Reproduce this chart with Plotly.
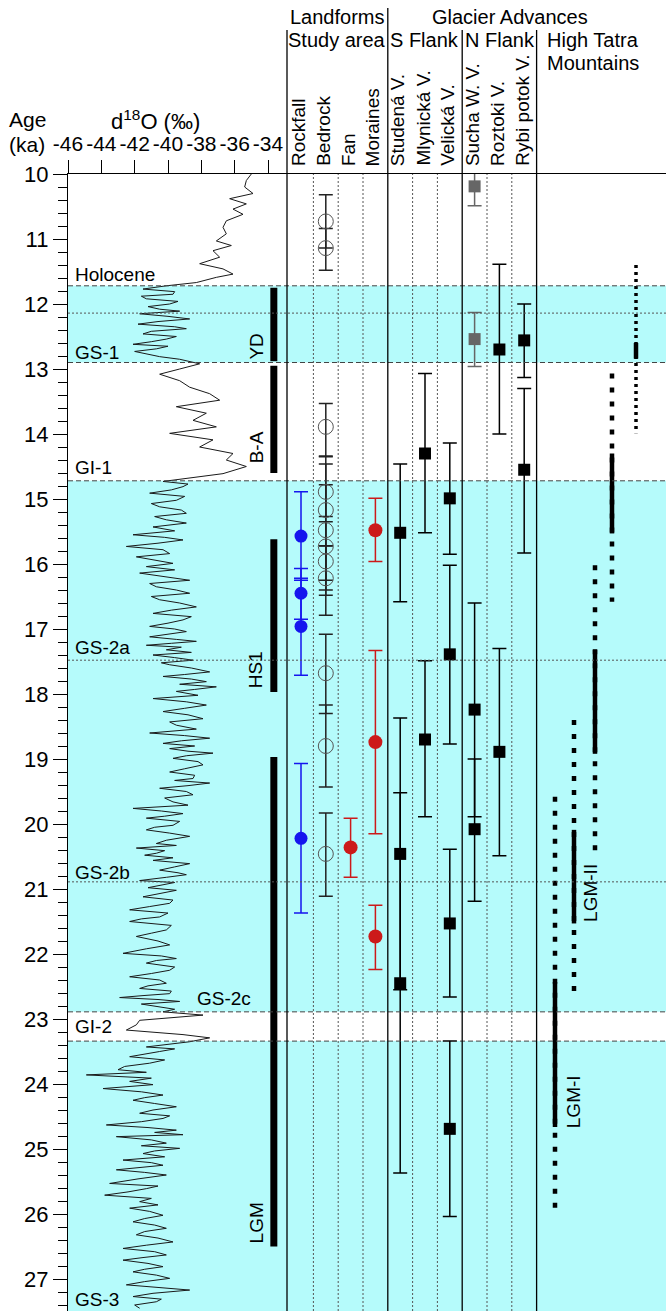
import plotly.graph_objects as go

# ---------------- data ----------------
# d18O record, by climate stage (age ka, permil)
age_holocene = [10.0, 10.1, 10.2, 10.3, 10.38, 10.46, 10.54, 10.62, 10.72, 10.82, 10.92, 11.03, 11.1, 11.18,
                11.28, 11.38, 11.46, 11.54, 11.59, 11.67]
d18o_holocene = [-35.0, -35.3, -35.4, -34.9, -36.3, -35.3, -36.1, -35.5, -36.5, -36.7, -36.5, -37.1, -36.2, -37.3,
                 -36.9, -38.1, -36.7, -36.1, -37.1, -38.3]

age_gs1 = [11.72, 11.77, 11.81, 11.85, 11.88, 11.92, 11.96, 12.0, 12.04, 12.08, 12.11, 12.15, 12.19, 12.23,
           12.27, 12.31, 12.35, 12.38, 12.42, 12.46, 12.5, 12.54, 12.58, 12.62, 12.65, 12.69, 12.73, 12.77,
           12.81, 12.85]
d18o_gs1 = [-40.1, -41.5, -39.6, -39.7, -41.6, -41.3, -39.4, -39.9, -41.2, -40.5, -39.3, -41.7, -40.0, -38.7,
            -40.6, -41.8, -39.6, -38.9, -41.0, -41.5, -39.5, -40.1, -41.0, -42.1, -40.0, -40.7, -42.0, -41.3,
            -40.5, -39.3]

age_gi1 = [12.92, 13.0, 13.08, 13.18, 13.28, 13.38, 13.48, 13.58, 13.68, 13.79, 13.89, 13.99, 14.09, 14.2,
           14.3, 14.4, 14.5, 14.61, 14.68]
d18o_gi1 = [-38.1, -39.3, -40.5, -39.3, -38.7, -37.5, -36.9, -39.5, -37.7, -38.5, -37.1, -39.9, -37.3, -38.1,
            -36.1, -36.5, -35.3, -36.7, -38.7]

age_gs2 = [14.73, 14.77, 14.81, 14.86, 14.91, 14.96, 15.02, 15.07, 15.12, 15.17, 15.22, 15.27, 15.32, 15.37,
           15.43, 15.49, 15.55, 15.59, 15.63, 15.68, 15.73, 15.78, 15.84, 15.89, 15.94, 15.99, 16.04, 16.09,
           16.14, 16.2, 16.25, 16.3, 16.35, 16.4, 16.45, 16.5, 16.55, 16.6, 16.66, 16.71, 16.76, 16.81,
           16.86, 16.91, 16.96, 17.0, 17.04, 17.08, 17.12, 17.16, 17.19, 17.22, 17.25, 17.28, 17.32, 17.36,
           17.4, 17.44, 17.48, 17.52, 17.55, 17.6, 17.66, 17.7, 17.73, 17.77, 17.81, 17.85, 17.89, 17.93,
           17.96, 18.02, 18.07, 18.12, 18.17, 18.22, 18.27, 18.32, 18.38, 18.43, 18.48, 18.54, 18.6, 18.64,
           18.68, 18.72, 18.76, 18.8, 18.84, 18.88, 18.91, 18.95, 18.99, 19.04, 19.09, 19.15, 19.2, 19.25,
           19.3, 19.33, 19.37, 19.41, 19.45, 19.5, 19.55, 19.6, 19.66, 19.71, 19.76, 19.8, 19.84, 19.88,
           19.91, 19.96, 20.02, 20.05, 20.09, 20.14, 20.19, 20.25, 20.3, 20.33, 20.37, 20.41, 20.45, 20.48,
           20.52, 20.56, 20.61, 20.66, 20.71, 20.75, 20.78, 20.82, 20.87, 20.9, 20.94, 20.98, 21.02, 21.07,
           21.12, 21.17, 21.22, 21.27, 21.32, 21.37, 21.43, 21.46, 21.5, 21.56, 21.63, 21.68, 21.73, 21.8,
           21.86, 21.92, 21.99, 22.03, 22.07, 22.1, 22.14, 22.2, 22.25, 22.3, 22.35, 22.4, 22.45, 22.49,
           22.53, 22.57, 22.61, 22.64, 22.67, 22.7, 22.73, 22.77, 22.81, 22.85, 22.89]
d18o_gs2 = [-40.3, -38.8, -39.1, -39.8, -41.1, -39.0, -39.5, -41.0, -40.5, -39.2, -38.9, -40.8, -40.1, -38.9,
            -40.9, -39.6, -42.1, -40.2, -39.1, -40.6, -42.5, -40.3, -39.9, -41.9, -40.9, -39.7, -41.3, -39.6,
            -41.7, -40.2, -38.7, -41.1, -40.7, -39.5, -38.7, -41.0, -40.5, -39.3, -38.3, -39.8, -40.9, -38.6,
            -39.1, -40.0, -41.1, -39.6, -38.9, -40.0, -41.1, -39.5, -38.3, -39.8, -41.3, -39.2, -40.1, -38.6,
            -40.9, -39.6, -38.5, -40.4, -39.9, -38.6, -37.5, -39.0, -40.3, -38.6, -37.7, -39.3, -37.1, -38.4,
            -39.5, -38.2, -40.9, -38.9, -37.7, -39.0, -40.3, -38.8, -37.9, -39.9, -39.5, -38.3, -41.1, -39.0,
            -37.5, -39.2, -40.3, -38.4, -39.9, -38.8, -37.3, -38.9, -39.7, -38.2, -37.9, -39.0, -39.9, -38.4,
            -38.5, -39.6, -37.5, -38.8, -40.5, -38.9, -38.5, -40.2, -39.7, -38.8, -42.1, -40.4, -39.1, -40.2,
            -41.3, -39.3, -39.7, -40.8, -41.3, -39.9, -38.7, -40.1, -40.7, -39.5, -41.9, -40.2, -40.7, -41.4,
            -39.7, -40.9, -38.7, -39.6, -40.5, -39.4, -38.9, -40.1, -41.7, -39.6, -40.3, -41.2, -39.5, -40.6,
            -41.5, -39.7, -39.9, -41.1, -42.3, -40.0, -40.5, -41.6, -42.3, -39.8, -40.1, -41.0, -41.9, -40.6,
            -39.9, -41.3, -42.7, -40.4, -39.5, -40.7, -41.3, -39.6, -39.9, -41.0, -42.3, -40.5, -40.1, -41.2,
            -41.7, -39.8, -39.9, -41.5, -42.9, -40.6, -39.3, -41.6, -40.7, -39.6, -40.3]

age_gi2 = [22.94, 23.02, 23.09, 23.17, 23.24, 23.29, 23.35]
d18o_gi2 = [-37.9, -41.7, -41.9, -42.5, -39.1, -37.5, -38.7]

age_gs3 = [23.43, 23.46, 23.5, 23.54, 23.58, 23.63, 23.68, 23.73, 23.78, 23.82, 23.86, 23.91, 23.96, 24.01,
           24.07, 24.12, 24.17, 24.21, 24.25, 24.3, 24.35, 24.4, 24.45, 24.49, 24.53, 24.58, 24.63, 24.67,
           24.71, 24.745, 24.78, 24.81, 24.86, 24.91, 24.95, 24.99, 25.03, 25.07, 25.12, 25.17, 25.21, 25.25,
           25.28, 25.32, 25.36, 25.4, 25.46, 25.53, 25.57, 25.61, 25.66, 25.71, 25.76, 25.81, 25.86, 25.91,
           25.96, 26.02, 26.07, 26.12, 26.17, 26.22, 26.27, 26.32, 26.37, 26.43, 26.48, 26.53, 26.58, 26.63,
           26.67, 26.71, 26.76, 26.81, 26.85, 26.89, 26.94, 26.99, 27.04, 27.09, 27.13, 27.17, 27.22, 27.27,
           27.31, 27.35, 27.4, 27.45]
d18o_gs3 = [-41.3, -39.6, -40.5, -41.3, -42.3, -40.2, -41.1, -42.6, -43.0, -41.3, -44.9, -41.0, -42.3, -40.9,
            -43.9, -41.6, -40.3, -41.4, -42.1, -40.8, -39.5, -40.9, -41.7, -39.9, -40.3, -41.6, -43.7, -41.2,
            -39.5, -40.8, -39.1, -43.1, -41.0, -40.1, -41.6, -39.3, -40.8, -41.5, -40.2, -42.7, -41.0, -40.3,
            -41.6, -43.1, -41.4, -40.1, -41.8, -43.5, -40.6, -41.3, -42.4, -43.8, -41.0, -41.7, -40.6, -42.3,
            -41.1, -40.3, -41.4, -42.1, -40.8, -40.1, -41.4, -41.9, -40.6, -39.7, -41.3, -42.7, -40.8, -40.1,
            -41.5, -42.7, -41.2, -40.3, -41.4, -42.1, -40.7, -39.9, -41.4, -42.5, -40.6, -38.7, -40.9, -42.1,
            -40.4, -40.7, -42.0, -41.7]

age = age_holocene + age_gs1 + age_gi1 + age_gs2 + age_gi2 + age_gs3
d18o = d18o_holocene + d18o_gs1 + d18o_gi1 + d18o_gs2 + d18o_gi2 + d18o_gs3

# climate stages
band_start = [11.72, 14.72, 23.34]
band_end = [12.90, 22.89, 27.60]
dashed_ages = [11.72, 12.90, 14.72, 22.89, 23.34]
dotted_ages = [12.14, 17.48, 20.89]
stage_labels = ["Holocene", "GS-1", "GI-1", "GS-2a", "GS-2b", "GS-2c", "GI-2", "GS-3"]
stage_label_age = [11.55, 12.74, 14.52, 17.29, 20.74, 22.68, 23.12, 27.32]
stage_label_d18o = [-45.7, -45.7, -45.7, -45.7, -45.7, -38.4, -45.7, -45.7]

# periods (thick black bars)
period_names = ["YD", "B-A", "HS1", "LGM"]
period_start = [11.75, 12.95, 15.62, 18.97]
period_end = [12.88, 14.60, 17.97, 26.50]
period_label_age = [12.65, 14.20, 17.63, 26.14]

# d18O ticks
d18o_ticks = [-46, -44, -42, -40, -38, -36, -34]
d18o_ticktext = ["-46", "-44", "-42", "-40", "-38", "-36", "-34"]

# columns
columns = ["Rockfall", "Bedrock", "Fan", "Moraines", "Studená V.", "Mlynická V.", "Velická V.",
           "Sucha W. V.", "Roztoki V.", "Rybi potok V."]

rockfall_age = [15.57, 16.45, 16.96, 20.22]
rockfall_lo = [14.89, 16.07, 16.22, 19.07]
rockfall_hi = [16.25, 16.85, 17.71, 21.37]

bedrock_age = [10.73, 11.14, 13.89, 14.89, 15.17, 15.48, 15.73, 15.96, 16.22, 17.68, 18.80, 20.46]
bedrock_lo = [10.32, 10.84, 13.53, 14.46, 14.34, 14.78, 15.35, 15.72, 15.72, 17.08, 18.17, 19.83]
bedrock_hi = [11.14, 11.48, 14.35, 15.27, 15.72, 16.25, 16.40, 16.48, 16.79, 18.30, 19.43, 21.11]

fan_age = [20.36]
fan_lo = [19.91]
fan_hi = [20.82]

moraines_age = [15.48, 18.74, 21.73]
moraines_lo = [14.99, 17.33, 21.25]
moraines_hi = [15.96, 20.15, 22.24]

studena_age = [15.52, 20.46, 22.45]
studena_lo = [14.46, 18.37, 19.52]
studena_hi = [16.58, 22.55, 25.37]

mlynicka_age = [14.30, 18.70]
mlynicka_lo = [13.07, 17.49]
mlynicka_hi = [15.52, 19.89]

velicka_age = [14.99, 17.39, 21.53, 24.69]
velicka_lo = [14.14, 16.02, 20.39, 23.34]
velicka_hi = [15.85, 18.77, 22.66, 26.04]

sucha_grey_age = [10.19, 12.54]
sucha_grey_lo = [9.90, 12.13]
sucha_grey_hi = [10.49, 12.96]

sucha_age = [18.24, 20.08]
sucha_lo = [16.60, 19.00]
sucha_hi = [19.89, 21.19]

roztoki_age = [12.70, 18.89]
roztoki_lo = [11.39, 17.30]
roztoki_hi = [14.00, 20.49]

rybi_age = [12.56, 14.55]
rybi_lo = [12.00, 13.30]
rybi_hi = [13.13, 15.83]

# High Tatra Mountains advances (dotted = uncertain extent, solid = core)
tatra_dot_start = [19.58, 18.40, 16.02, 13.07, 11.40]
tatra_dot_end = [25.96, 22.60, 20.50, 16.58, 13.99]
tatra_solid_start = [22.43, 20.09, 17.32, 14.30, 12.60]
tatra_solid_end = [24.66, 21.53, 18.92, 15.53, 12.84]

# ---------------- layout geometry ----------------
W, H = 666, 1311
L, T = 68, 174
PW, PH = W - L, H - T
X1_RANGE = [-46, -32.86]
SPLIT = 287
COL0, COLW = 301, 24.8
X2_RANGE = [(SPLIT - COL0) / COLW, (W - COL0) / COLW]
Y_RANGE = [10 + PH / 65.0, 10]


def px(xp):
    return (xp - L) / PW


def py(yp):
    return (H - yp) / PH


def colpos(xp):
    return (xp - COL0) / COLW


FONT = "Liberation Sans, Arial, sans-serif"
CYAN = "#b5fbfb"
BLUE = "#1515ee"
RED = "#cc1a1a"

fig = go.Figure()

# d18O curve
fig.add_trace(go.Scatter(x=d18o, y=age, mode="lines", line=dict(color="#1a1a1a", width=1),
                         xaxis="x", yaxis="y", showlegend=False, hoverinfo="skip"))

# period bars
bar_x = -33.65
for s, e in zip(period_start, period_end):
    fig.add_trace(go.Scatter(x=[bar_x, bar_x], y=[s, e], mode="lines",
                             line=dict(color="black", width=7), xaxis="x", yaxis="y",
                             showlegend=False, hoverinfo="skip"))


def add_points(ci, ages, lo, hi, symbol, size, mcolor, ecolor, line_w=0, lcolor=None):
    fig.add_trace(go.Scatter(
        x=[ci] * len(ages), y=ages, mode="markers", xaxis="x2", yaxis="y",
        marker=dict(symbol=symbol, size=size, color=mcolor,
                    line=dict(width=line_w, color=lcolor or mcolor)),
        error_y=dict(type="data", symmetric=False,
                     array=[h - a for a, h in zip(ages, hi)],
                     arrayminus=[a - l for a, l in zip(ages, lo)],
                     color=ecolor, thickness=1.5, width=7),
        showlegend=False, hoverinfo="skip"))


add_points(0, rockfall_age, rockfall_lo, rockfall_hi, "circle", 13, BLUE, BLUE)
add_points(1, bedrock_age, bedrock_lo, bedrock_hi, "circle-open", 15, "#555555", "#222222", 1, "#555555")
add_points(2, fan_age, fan_lo, fan_hi, "circle", 14, RED, RED)
add_points(3, moraines_age, moraines_lo, moraines_hi, "circle", 14, RED, RED)
add_points(4, studena_age, studena_lo, studena_hi, "square", 12, "black", "black")
add_points(5, mlynicka_age, mlynicka_lo, mlynicka_hi, "square", 12, "black", "black")
add_points(6, velicka_age, velicka_lo, velicka_hi, "square", 12, "black", "black")
add_points(7, sucha_grey_age, sucha_grey_lo, sucha_grey_hi, "square", 12, "#666666", "#666666")
add_points(7, sucha_age, sucha_lo, sucha_hi, "square", 12, "black", "black")
add_points(8, roztoki_age, roztoki_lo, roztoki_hi, "square", 12, "black", "black")
add_points(9, rybi_age, rybi_lo, rybi_hi, "square", 12, "black", "black")

# High Tatra lines
tatra_x = [colpos(p) for p in [555, 574, 595, 612, 636]]
for i, xc in enumerate(tatra_x):
    dash = "3px,4px" if i == 4 else "5px,9px"
    wd = 3.5 if i == 4 else 4.5
    fig.add_trace(go.Scatter(x=[xc, xc], y=[tatra_dot_start[i], tatra_dot_end[i]], mode="lines",
                             line=dict(color="black", width=wd, dash=dash), xaxis="x2", yaxis="y",
                             showlegend=False, hoverinfo="skip"))
    fig.add_trace(go.Scatter(x=[xc, xc], y=[tatra_solid_start[i], tatra_solid_end[i]], mode="lines",
                             line=dict(color="black", width=4.5), xaxis="x2", yaxis="y",
                             showlegend=False, hoverinfo="skip"))

shapes = []
for s, e in zip(band_start, band_end):
    shapes.append(dict(type="rect", xref="paper", yref="y", x0=0, x1=1, y0=s, y1=e,
                       fillcolor=CYAN, line=dict(width=0), layer="below"))
for a in dashed_ages:
    shapes.append(dict(type="line", xref="paper", yref="y", x0=0, x1=1, y0=a, y1=a,
                       line=dict(color="#444444", width=1, dash="5px,3px")))
for a in dotted_ages:
    shapes.append(dict(type="line", xref="paper", yref="y", x0=0, x1=1, y0=a, y1=a,
                       line=dict(color="#555555", width=1, dash="2px,2px")))
# column dotted separators
for c in [0.5, 1.5, 2.5, 4.5, 5.5, 7.5, 8.5]:
    shapes.append(dict(type="line", xref="x2", yref="paper", x0=c, x1=c, y0=0, y1=1,
                       line=dict(color="#555555", width=1, dash="2px,2px")))
# solid group separators (extend into header)
for xp_, top in [(SPLIT, 30), (COL0 + 3.5 * COLW, 8), (COL0 + 6.5 * COLW, 30), (COL0 + 9.5 * COLW, 30)]:
    shapes.append(dict(type="line", xref="paper", yref="paper", x0=px(xp_), x1=px(xp_),
                       y0=0, y1=py(top), line=dict(color="black", width=1.3)))

ann = []


def text(xp_, yp_, s, size=20, xanchor="center", yanchor="middle", angle=0, xref="paper", yref="paper"):
    ann.append(dict(x=xp_, y=yp_, xref=xref, yref=yref, text=s, showarrow=False,
                    xanchor=xanchor, yanchor=yanchor, textangle=angle,
                    font=dict(family=FONT, size=size, color="black")))


text(px(7), py(119), "Age", size=21, xanchor="left")
text(px(7), py(144), "(ka)", size=21, xanchor="left")
text(px(155), py(120), "d<sup>18</sup>O (‰)", size=22)
text(px(337), py(17), "Landforms")
text(px(337), py(40), "Study area")
text(px(510), py(17), "Glacier Advances")
text(px(424), py(40), "S Flank")
text(px(500), py(40), "N Flank")
text(px(593), py(40), "High Tatra")
text(px(593), py(63), "Mountains")
for i, name in enumerate(columns):
    text(i - 0.08, py(168), name, size=19, yanchor="bottom", angle=-90, xref="x2")
for s, a, v in zip(stage_labels, stage_label_age, stage_label_d18o):
    text(v, a, s, size=19, xanchor="left", xref="x", yref="y")
for s, a in zip(period_names, period_label_age):
    text(-34.7, a, s, size=19, angle=-90, xref="x", yref="y")
text(colpos(591), 21.06, "LGM-II", size=19, angle=-90, xref="x2", yref="y")
text(colpos(573), 24.28, "LGM-I", size=19, angle=-90, xref="x2", yref="y")

fig.update_layout(
    width=W, height=H,
    margin=dict(l=L, r=0, t=T, b=0, autoexpand=False),
    paper_bgcolor="white", plot_bgcolor="white",
    showlegend=False,
    shapes=shapes, annotations=ann,
    xaxis=dict(domain=[0, px(SPLIT)], range=X1_RANGE, side="top", anchor="y",
               tickmode="array", tickvals=d18o_ticks, ticktext=d18o_ticktext, tickangle=0,
               ticks="outside", ticklen=13,
               tickwidth=1.2, tickcolor="black", showline=True, linecolor="black", linewidth=1.3,
               showgrid=False, zeroline=False, tickfont=dict(family=FONT, size=21, color="black")),
    xaxis2=dict(domain=[px(SPLIT), 1], range=X2_RANGE, side="top", anchor="y",
                showticklabels=False, ticks="", showline=True, linecolor="black", linewidth=1.3,
                showgrid=False, zeroline=False),
    yaxis=dict(range=Y_RANGE, tick0=10, dtick=1, ticks="outside", ticklen=14, tickwidth=1.2,
               tickcolor="black", showline=True, linecolor="black", linewidth=1.3,
               showgrid=False, zeroline=False,
               minor=dict(dtick=0.2, ticks="outside", ticklen=9, tickwidth=1, tickcolor="black"),
               tickfont=dict(family=FONT, size=22, color="black")),
)

fig.write_html("out.html", config={"displayModeBar": False},
               post_script="document.body.style.margin='0';document.body.style.overflow='hidden';")
